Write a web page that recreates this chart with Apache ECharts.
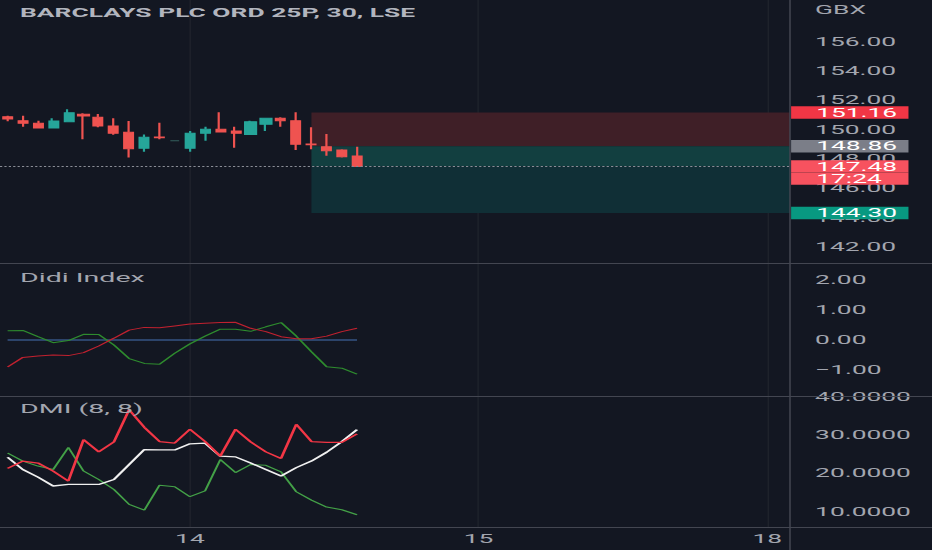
<!DOCTYPE html>
<html>
<head>
<meta charset="utf-8">
<script src="https://cdn.jsdelivr.net/npm/echarts@6.0.0/dist/echarts.min.js"></script>
<style>
  html, body { margin: 0; padding: 0; background: #131722; overflow: hidden; }
  /* the reference screenshot is stretched sideways: draw narrow, then widen */
  #chart { width: 424px; height: 550px; transform: scaleX(2.19811); transform-origin: 0 0; }
</style>
</head>
<body>
<div id="chart"></div>
<script>
// 30 minute slots shown on screen (19 per trading day), day labels on their first slot
const slotCount = 52;
const dayLabels = { 12: '14', 31: '15', 50: '18' };
const slots = [];
for (let i = 0; i < slotCount; i++) slots.push(String(i));

// [open, close, low, high]
const candles = [
  [150.88, 150.72, 150.56, 150.95],
  [150.60, 150.43, 150.19, 150.95],
  [150.43, 150.11, 150.08, 150.60],
  [150.11, 150.58, 150.08, 150.77],
  [150.53, 151.15, 150.50, 151.38],
  [151.04, 150.92, 149.33, 151.11],
  [150.84, 150.24, 150.15, 151.06],
  [150.24, 149.74, 149.65, 150.77],
  [149.81, 148.69, 148.10, 150.58],
  [148.72, 149.47, 148.49, 149.67],
  [149.50, 149.44, 149.33, 150.47],
  [149.24, 149.24, 149.24, 149.24],
  [148.72, 149.74, 148.49, 149.90],
  [149.74, 150.02, 149.24, 150.19],
  [150.02, 149.83, 149.83, 151.18],
  [149.90, 149.74, 148.76, 150.19],
  [149.67, 150.53, 149.67, 150.60],
  [150.36, 150.77, 149.90, 150.77],
  [150.77, 150.60, 150.19, 150.84],
  [150.60, 148.99, 148.60, 151.18],
  [149.02, 148.96, 148.65, 150.15],
  [148.83, 148.56, 148.21, 149.70],
  [148.60, 148.14, 148.10, 148.65],
  [148.19, 147.48, 147.48, 148.83]
];

// short position tool
const positionStart = 20;
const stopPrice = 151.16;
const entryPrice = 148.86;
const lastPrice = 147.48;
const targetPrice = 144.30;
const countdown = '17:24';

// Didi Index
const didiBase = [0, 0, 0, 0, 0, 0, 0, 0, 0, 0, 0, 0, 0, 0, 0, 0, 0, 0, 0, 0, 0, 0, 0, 0];
const didiFast = [0.31, 0.32, 0.11, -0.09, -0.02, 0.19, 0.18, -0.17, -0.62, -0.78, -0.81, -0.44,
                  -0.13, 0.13, 0.36, 0.36, 0.29, 0.44, 0.58, 0.13, -0.39, -0.89, -0.94, -1.14];
const didiSlow = [-0.90, -0.58, -0.53, -0.50, -0.52, -0.42, -0.20, 0.06, 0.33, 0.42, 0.41, 0.47,
                  0.53, 0.56, 0.58, 0.59, 0.39, 0.28, 0.11, 0.04, 0.04, 0.13, 0.28, 0.39];

// DMI (8, 8)
const plusDI = [21.3, 23.2, 22.7, 20.6, 18.0, 28.8, 25.6, 28.2, 36.6, 32.0, 28.3, 27.9,
                31.5, 28.3, 24.5, 31.5, 28.2, 25.6, 23.9, 32.8, 28.3, 28.1, 28.1, 30.3];
const adx = [24.2, 21.0, 19.0, 16.7, 17.1, 17.1, 17.1, 18.4, 22.3, 26.2, 26.1, 26.1,
             27.7, 27.9, 24.5, 24.3, 22.7, 21.0, 19.3, 21.5, 23.2, 25.5, 28.3, 31.4];
const minusDI = [25.3, 23.2, 21.9, 21.0, 26.8, 20.6, 18.4, 15.8, 11.9, 10.4, 16.9, 16.5,
                 13.9, 15.4, 23.6, 20.2, 22.3, 22.1, 20.4, 15.2, 13.0, 11.2, 10.5, 9.2];

const FONT = 'Roboto, sans-serif';
const LABEL = '#a3a6af';
const LINE = '#434651';
const UP = '#26a69a';
const DOWN = '#ef5350';
const DOJI = '#35605d';

const plotRight = 64.6;            // width of the price scale column
const halfSlot = (424 - plotRight) / slotCount / 2;
const labelGap = 11.4;

function tagLabel(text, bg) {
  return {
    show: true, position: 'end', distance: 0.5,
    formatter: () => text,
    color: '#ffffff', fontSize: 12, fontFamily: FONT,
    backgroundColor: bg, width: 42, lineHeight: 12.6,
    padding: [0, 0, 0, labelGap], align: 'left', verticalAlign: 'middle'
  };
}

const noLine = { color: 'rgba(0,0,0,0)', width: 0 };

const chart = echarts.init(document.getElementById('chart'), null, { renderer: 'svg' });

chart.setOption({
  animation: false,
  backgroundColor: '#131722',
  textStyle: { fontFamily: FONT },
  title: [
    { text: 'BARCLAYS PLC ORD 25P, 30, LSE', left: 9.1, top: 7, padding: 0,
      textStyle: { color: '#b2b5be', fontSize: 12, fontWeight: 'bold', lineHeight: 12, fontFamily: FONT } },
    { text: 'GBX', left: 424 - plotRight + labelGap, top: 4, padding: 0,
      textStyle: { color: LABEL, fontSize: 12, fontWeight: 'normal', lineHeight: 12, fontFamily: FONT } },
    { text: 'Didi Index', left: 9.1, top: 270.5, padding: 0,
      textStyle: { color: LABEL, fontSize: 13, fontWeight: 'normal', lineHeight: 13, fontFamily: FONT } },
    { text: 'DMI (8, 8)', left: 9.1, top: 401.5, padding: 0,
      textStyle: { color: LABEL, fontSize: 13, fontWeight: 'normal', lineHeight: 13, fontFamily: FONT } }
  ],
  grid: [
    { left: 0, right: plotRight, top: 41.7, height: 205 },
    { left: 0, right: plotRight, top: 280, height: 120 },
    { left: 0, right: plotRight, top: 396.7, height: 154.4 },
    { left: halfSlot, right: plotRight + halfSlot, top: 0, height: 527 }
  ],
  xAxis: [
    { type: 'category', gridIndex: 0, data: slots, show: false },
    { type: 'category', gridIndex: 1, data: slots, show: false },
    { type: 'category', gridIndex: 2, data: slots, show: false },
    {
      type: 'category', gridIndex: 3, data: slots, boundaryGap: false,
      axisLine: { show: false }, axisTick: { show: false },
      axisLabel: {
        color: LABEL, fontSize: 12, margin: 6,
        interval: (i) => dayLabels[i] !== undefined,
        formatter: (v, i) => dayLabels[i] || ''
      },
      splitLine: {
        show: true,
        interval: (i) => dayLabels[i] !== undefined,
        lineStyle: { color: '#22262f', width: 0.5 }
      }
    },
    { type: 'value', gridIndex: 0, min: -0.5, max: slotCount - 0.5, show: false }
  ],
  yAxis: [
    {
      type: 'value', gridIndex: 0, position: 'right', min: 142, max: 156, interval: 2,
      axisLine: { show: false }, axisTick: { show: false }, splitLine: { show: false },
      axisLabel: { color: LABEL, fontSize: 12, margin: labelGap, formatter: (v) => v.toFixed(2) }
    },
    {
      type: 'value', gridIndex: 1, position: 'right', min: -2, max: 2, interval: 1,
      axisLine: { show: false }, axisTick: { show: false }, splitLine: { show: false },
      axisLabel: {
        color: LABEL, fontSize: 12, margin: labelGap, showMinLabel: false,
        formatter: (v) => (v < 0 ? '\u2212' + Math.abs(v).toFixed(2) : v.toFixed(2))
      }
    },
    {
      type: 'value', gridIndex: 2, position: 'right', min: 0, max: 40, interval: 10,
      axisLine: { show: false }, axisTick: { show: false }, splitLine: { show: false },
      axisLabel: { color: LABEL, fontSize: 12, margin: labelGap, showMinLabel: false,
                   formatter: (v) => v.toFixed(4) }
    },
    { type: 'value', gridIndex: 3, show: false }
  ],
  series: [
    {
      // position zones (stop above, target below)
      type: 'line', xAxisIndex: 4, yAxisIndex: 0, data: [], silent: true,
      markArea: {
        silent: true,
        data: [
          [{ coord: [positionStart, stopPrice], itemStyle: { color: '#3f1f27' } },
           { coord: [slotCount - 0.5, entryPrice] }],
          [{ coord: [positionStart, entryPrice], itemStyle: { color: '#123f40' } },
           { coord: [slotCount - 0.5, lastPrice] }],
          [{ coord: [positionStart, lastPrice], itemStyle: { color: '#102f36' } },
           { coord: [slotCount - 0.5, targetPrice] }]
        ]
      }
    },
    {
      type: 'candlestick', xAxisIndex: 0, yAxisIndex: 0, barWidth: 4.6,
      data: candles.map((c) => (c[0] === c[1]
        ? { value: c, itemStyle: { color: DOJI, color0: DOJI, borderColor: DOJI, borderColor0: DOJI, borderColorDoji: DOJI } }
        : c)),
      itemStyle: { color: UP, color0: DOWN, borderColor: UP, borderColor0: DOWN, borderWidth: 1 },
      markLine: {
        silent: true, symbol: ['none', 'none'],
        data: [
          { yAxis: stopPrice, lineStyle: noLine, label: tagLabel(stopPrice.toFixed(2), '#f23645') },
          { yAxis: entryPrice, lineStyle: noLine, label: tagLabel(entryPrice.toFixed(2), '#7b7e88') },
          { yAxis: targetPrice, lineStyle: noLine, label: tagLabel(targetPrice.toFixed(2), '#089981') },
          {
            yAxis: lastPrice,
            lineStyle: { type: 'dotted', color: '#8a8d96', width: 1 },
            label: {
              show: true, position: 'end', distance: 0.5, align: 'left', verticalAlign: 'middle',
              formatter: () => '{gap| }\n{tag|' + lastPrice.toFixed(2) + '}\n{tag|' + countdown + '}',
              rich: {
                gap: { lineHeight: 12.2, height: 12.2, fontSize: 12 },
                tag: { color: '#ffffff', fontSize: 12, fontFamily: FONT, backgroundColor: '#f7525f',
                       width: 42, height: 12.2, lineHeight: 12.2, padding: [0, 0, 0, labelGap] }
              }
            }
          }
        ]
      }
    },
    { type: 'line', xAxisIndex: 1, yAxisIndex: 1, data: didiBase, showSymbol: false,
      lineStyle: { color: '#4673b4', width: 1 } },
    { type: 'line', xAxisIndex: 1, yAxisIndex: 1, data: didiFast, showSymbol: false,
      lineStyle: { color: '#2e8b2e', width: 1 } },
    { type: 'line', xAxisIndex: 1, yAxisIndex: 1, data: didiSlow, showSymbol: false,
      lineStyle: { color: '#c0212f', width: 1 } },
    { type: 'line', xAxisIndex: 2, yAxisIndex: 2, data: minusDI, showSymbol: false,
      lineStyle: { color: '#43a047', width: 1 } },
    { type: 'line', xAxisIndex: 2, yAxisIndex: 2, data: adx, showSymbol: false,
      lineStyle: { color: '#f0f0f0', width: 1.3 } },
    { type: 'line', xAxisIndex: 2, yAxisIndex: 2, data: plusDI, showSymbol: false,
      lineStyle: { color: '#f23645', width: 1.3 } }
  ],
  graphic: [
    { type: 'line', silent: true, z: 100, shape: { x1: 0, y1: 263.5, x2: 424, y2: 263.5 }, style: { stroke: LINE, lineWidth: 1 } },
    { type: 'line', silent: true, z: 100, shape: { x1: 0, y1: 396.5, x2: 424, y2: 396.5 }, style: { stroke: LINE, lineWidth: 1 } },
    { type: 'line', silent: true, z: 100, shape: { x1: 0, y1: 527.5, x2: 424, y2: 527.5 }, style: { stroke: LINE, lineWidth: 1 } },
    { type: 'line', silent: true, z: 100, shape: { x1: 424 - plotRight, y1: 0, x2: 424 - plotRight, y2: 550 }, style: { stroke: LINE, lineWidth: 0.7 } }
  ]
});
</script>
</body>
</html>
